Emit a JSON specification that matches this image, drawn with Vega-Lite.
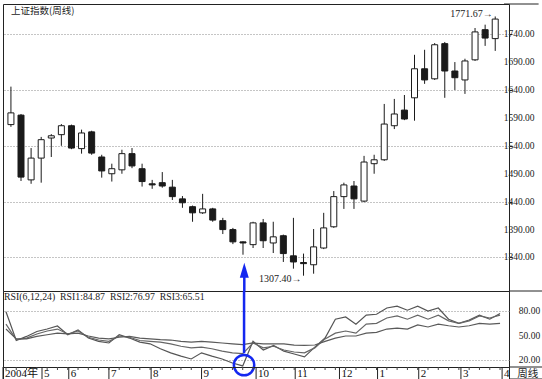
{
  "$schema": "https://vega.github.io/schema/vega-lite/v6.json",
  "padding": {"left": 2, "top": 3, "right": 3, "bottom": 1},
  "background": "white",
  "spacing": 0,
  "bounds": "flush",
  "config": {"view": {"stroke": "#222", "strokeWidth": 1}, "font": "Liberation Serif"},
  "datasets": {
    "k": [
      {"i": 0, "o": 1578, "h": 1646, "l": 1574, "c": 1599, "r6": 79, "r12": 64, "r24": 58},
      {"i": 1, "o": 1595, "h": 1597, "l": 1477, "c": 1484, "r6": 44, "r12": 45, "r24": 46},
      {"i": 2, "o": 1479, "h": 1536, "l": 1472, "c": 1518, "r6": 49, "r12": 47, "r24": 46},
      {"i": 3, "o": 1518, "h": 1556, "l": 1474, "c": 1551, "r6": 55, "r12": 52, "r24": 49},
      {"i": 4, "o": 1554, "h": 1561, "l": 1520, "c": 1558, "r6": 58, "r12": 55.6, "r24": 51},
      {"i": 5, "o": 1560, "h": 1579, "l": 1540, "c": 1576, "r6": 61.7, "r12": 58, "r24": 53},
      {"i": 6, "o": 1576, "h": 1578, "l": 1534, "c": 1536, "r6": 51, "r12": 52, "r24": 52},
      {"i": 7, "o": 1535, "h": 1569, "l": 1526, "c": 1563, "r6": 57, "r12": 55.6, "r24": 53},
      {"i": 8, "o": 1565, "h": 1567, "l": 1524, "c": 1527, "r6": 47, "r12": 48, "r24": 49.5},
      {"i": 9, "o": 1520, "h": 1524, "l": 1483, "c": 1495, "r6": 43, "r12": 44.6, "r24": 47},
      {"i": 10, "o": 1490, "h": 1508, "l": 1476, "c": 1499, "r6": 41, "r12": 43, "r24": 46},
      {"i": 11, "o": 1497, "h": 1533, "l": 1490, "c": 1526, "r6": 51, "r12": 49.5, "r24": 48},
      {"i": 12, "o": 1526, "h": 1536, "l": 1500, "c": 1504, "r6": 47, "r12": 48, "r24": 49},
      {"i": 13, "o": 1499, "h": 1508, "l": 1467, "c": 1476, "r6": 42, "r12": 44, "r24": 47},
      {"i": 14, "o": 1472, "h": 1479, "l": 1463, "c": 1470, "r6": 40, "r12": 43, "r24": 46},
      {"i": 15, "o": 1474, "h": 1493, "l": 1465, "c": 1468, "r6": 34, "r12": 42, "r24": 45},
      {"i": 16, "o": 1466, "h": 1479, "l": 1443, "c": 1449, "r6": 29, "r12": 40, "r24": 44.6},
      {"i": 17, "o": 1445, "h": 1450, "l": 1429, "c": 1438, "r6": 25, "r12": 37, "r24": 43},
      {"i": 18, "o": 1431, "h": 1433, "l": 1404, "c": 1420, "r6": 21.5, "r12": 35, "r24": 42},
      {"i": 19, "o": 1420, "h": 1454, "l": 1418, "c": 1427, "r6": 29, "r12": 36, "r24": 43},
      {"i": 20, "o": 1427, "h": 1429, "l": 1404, "c": 1407, "r6": 25, "r12": 34, "r24": 42},
      {"i": 21, "o": 1406, "h": 1411, "l": 1382, "c": 1390, "r6": 21.5, "r12": 31, "r24": 41},
      {"i": 22, "o": 1390, "h": 1393, "l": 1364, "c": 1368, "r6": 16.6, "r12": 29, "r24": 40},
      {"i": 23, "o": 1368, "h": 1369, "l": 1345, "c": 1366, "r6": 13, "r12": 28, "r24": 39},
      {"i": 24, "o": 1363, "h": 1404, "l": 1357, "c": 1402, "r6": 43, "r12": 41, "r24": 41},
      {"i": 25, "o": 1402, "h": 1409, "l": 1357, "c": 1370, "r6": 32.4, "r12": 35, "r24": 40},
      {"i": 26, "o": 1366, "h": 1404, "l": 1348, "c": 1377, "r6": 38, "r12": 37, "r24": 40},
      {"i": 27, "o": 1379, "h": 1381, "l": 1332, "c": 1347, "r6": 31, "r12": 32.4, "r24": 40},
      {"i": 28, "o": 1343, "h": 1411, "l": 1320, "c": 1332, "r6": 27.5, "r12": 30, "r24": 38.5},
      {"i": 29, "o": 1331, "h": 1347, "l": 1307.4, "c": 1329, "r6": 24, "r12": 29, "r24": 38},
      {"i": 30, "o": 1327, "h": 1391, "l": 1311, "c": 1359, "r6": 36, "r12": 35, "r24": 38.5},
      {"i": 31, "o": 1357, "h": 1420, "l": 1355, "c": 1393, "r6": 47, "r12": 46, "r24": 43},
      {"i": 32, "o": 1395, "h": 1459, "l": 1393, "c": 1449, "r6": 70, "r12": 53, "r24": 47},
      {"i": 33, "o": 1449, "h": 1474, "l": 1427, "c": 1470, "r6": 72.7, "r12": 55.6, "r24": 49.5},
      {"i": 34, "o": 1468, "h": 1477, "l": 1427, "c": 1445, "r6": 64, "r12": 53, "r24": 49.5},
      {"i": 35, "o": 1441, "h": 1522, "l": 1439, "c": 1511, "r6": 75, "r12": 64, "r24": 53},
      {"i": 36, "o": 1508, "h": 1524, "l": 1490, "c": 1515, "r6": 76, "r12": 65, "r24": 54},
      {"i": 37, "o": 1515, "h": 1615, "l": 1513, "c": 1579, "r6": 83.7, "r12": 71.5, "r24": 58},
      {"i": 38, "o": 1576, "h": 1624, "l": 1570, "c": 1597, "r6": 86, "r12": 74, "r24": 59},
      {"i": 39, "o": 1604, "h": 1631, "l": 1586, "c": 1588, "r6": 81, "r12": 70, "r24": 58},
      {"i": 40, "o": 1626, "h": 1703, "l": 1585, "c": 1678, "r6": 86, "r12": 75, "r24": 63},
      {"i": 41, "o": 1678, "h": 1712, "l": 1651, "c": 1658, "r6": 80, "r12": 70, "r24": 60.5},
      {"i": 42, "o": 1660, "h": 1724, "l": 1658, "c": 1721, "r6": 83.7, "r12": 75, "r24": 64},
      {"i": 43, "o": 1723, "h": 1726, "l": 1626, "c": 1674, "r6": 70, "r12": 68, "r24": 62},
      {"i": 44, "o": 1674, "h": 1690, "l": 1640, "c": 1662, "r6": 65, "r12": 65, "r24": 60.5},
      {"i": 45, "o": 1658, "h": 1696, "l": 1633, "c": 1692, "r6": 69, "r12": 68, "r24": 62},
      {"i": 46, "o": 1694, "h": 1751, "l": 1692, "c": 1744, "r6": 75, "r12": 74, "r24": 65},
      {"i": 47, "o": 1748, "h": 1757, "l": 1719, "c": 1733, "r6": 70, "r12": 71.5, "r24": 64},
      {"i": 48, "o": 1732, "h": 1771.67, "l": 1710, "c": 1767, "r6": 77, "r12": 75, "r24": 65}
    ],
    "months": [
      {"m": "2004年", "p": -0.29},
      {"m": "5", "p": 3.5},
      {"m": "6", "p": 6.1},
      {"m": "7", "p": 10.0},
      {"m": "8", "p": 14.1},
      {"m": "9", "p": 19.0},
      {"m": "10", "p": 24.3},
      {"m": "11", "p": 28.1},
      {"m": "12", "p": 32.4},
      {"m": "1", "p": 36.1},
      {"m": "2", "p": 40.1},
      {"m": "3", "p": 44.2},
      {"m": "4", "p": 48.2}
    ],
    "priceTicks": [{"v": 1340}, {"v": 1390}, {"v": 1440}, {"v": 1490}, {"v": 1540}, {"v": 1590}, {"v": 1640}, {"v": 1690}, {"v": 1740}],
    "rsiTicks": [{"v": 20}, {"v": 50}, {"v": 80}]
  },
  "vconcat": [
    {
      "width": 506,
      "height": 287,
      "layer": [
        {
          "data": {"name": "k"},
          "mark": {"type": "rule", "color": "#1a1a1a", "strokeWidth": 1},
          "encoding": {
            "x": {"field": "i", "type": "quantitative", "scale": {"domain": [-0.29, 48.87], "nice": false, "zero": false}, "axis": null},
            "y": {"field": "l", "type": "quantitative", "scale": {"domain": [1280, 1794], "nice": false, "zero": false},
              "axis": {"orient": "right", "values": [1340, 1390, 1440, 1490, 1540, 1590, 1640, 1690, 1740], "title": null, "labels": false,
                "grid": true, "gridColor": "#8a8a8a", "gridDash": [1, 2], "gridWidth": 1, "tickSize": 3, "tickColor": "#222", "domain": false}},
            "y2": {"field": "h"}
          }
        },
        {
          "data": {"name": "k"},
          "mark": {"type": "bar", "size": 6, "stroke": "#1a1a1a", "strokeWidth": 1},
          "encoding": {
            "x": {"field": "i", "type": "quantitative"},
            "y": {"field": "o", "type": "quantitative"},
            "y2": {"field": "c"},
            "fill": {"condition": {"test": "datum.c > datum.o", "value": "white"}, "value": "#1a1a1a"}
          }
        },
        {
          "data": {"name": "priceTicks"},
          "mark": {"type": "text", "align": "right", "baseline": "middle", "font": "Liberation Serif", "fontSize": 9.5, "color": "#222"},
          "encoding": {
            "x": {"datum": 51.9},
            "y": {"field": "v", "type": "quantitative"},
            "text": {"field": "v", "type": "quantitative", "format": ".2f"}
          }
        },
        {
          "data": {"values": [{}]},
          "mark": {"type": "rule", "color": "#222", "strokeWidth": 1},
          "encoding": {"x": {"datum": 48.87}, "x2": {"datum": 52.3}, "y": {"datum": 1794}}
        },
        {
          "data": {"values": [{}]},
          "mark": {"type": "text", "text": "上证指数(周线)", "font": "Noto Sans CJK SC", "fontSize": 9.5, "align": "left", "color": "#222"},
          "encoding": {"x": {"datum": 0}, "y": {"datum": 1781.7}}
        },
        {
          "data": {"values": [{}]},
          "mark": {"type": "text", "text": "1771.67→", "font": "Liberation Serif", "fontSize": 10, "align": "left", "color": "#222"},
          "encoding": {"x": {"datum": 43.54}, "y": {"datum": 1776}}
        },
        {
          "data": {"values": [{}]},
          "mark": {"type": "text", "text": "1307.40→", "font": "Liberation Serif", "fontSize": 10, "align": "left", "color": "#222"},
          "encoding": {"x": {"datum": 24.59}, "y": {"datum": 1301.7}}
        },
        {
          "data": {"values": [{}]},
          "mark": {"type": "rule", "color": "#1428f0", "strokeWidth": 2.5},
          "encoding": {"x": {"datum": 23.13}, "y": {"datum": 1317}, "y2": {"datum": 1280}}
        },
        {
          "data": {"values": [{}]},
          "mark": {"type": "point", "shape": "M0,-1L0.6,1L-0.6,1Z", "filled": true, "color": "#1428f0", "size": 225, "opacity": 1},
          "encoding": {"x": {"datum": 23.13}, "y": {"datum": 1317}}
        }
      ]
    },
    {
      "width": 506,
      "height": 76,
      "layer": [
        {
          "data": {"name": "k"},
          "transform": [{"fold": ["r6", "r12", "r24"], "as": ["key", "v"]}],
          "mark": {"type": "line", "strokeWidth": 1.2},
          "encoding": {
            "x": {"field": "i", "type": "quantitative", "scale": {"domain": [-0.29, 48.87], "nice": false, "zero": false}, "axis": null},
            "y": {"field": "v", "type": "quantitative", "scale": {"domain": [11.7, 104.4], "nice": false, "zero": false},
              "axis": {"orient": "right", "values": [20, 50, 80], "title": null, "labels": false,
                "grid": true, "gridColor": "#8a8a8a", "gridDash": [1, 2], "gridWidth": 1, "ticks": false, "domain": false}},
            "color": {"field": "key", "type": "nominal", "scale": {"domain": ["r6", "r12", "r24"], "range": ["#555555", "#666666", "#5a5a5a"]}, "legend": null}
          }
        },
        {
          "data": {"name": "rsiTicks"},
          "mark": {"type": "text", "align": "right", "baseline": "middle", "font": "Liberation Serif", "fontSize": 9.5, "color": "#222"},
          "encoding": {
            "x": {"datum": 51.9},
            "y": {"field": "v", "type": "quantitative"},
            "text": {"field": "v", "type": "quantitative", "format": ".2f"}
          }
        },
        {
          "data": {"values": [{}]},
          "mark": {"type": "rule", "color": "#222", "strokeWidth": 1},
          "encoding": {"x": {"datum": 48.87}, "x2": {"datum": 52.3}, "y": {"datum": 104.4}}
        },
        {
          "data": {"values": [{}]},
          "mark": {"type": "rule", "color": "#222", "strokeWidth": 1},
          "encoding": {"x": {"datum": 48.87}, "x2": {"datum": 52.3}, "y": {"datum": 11.7}}
        },
        {
          "data": {"values": [{}]},
          "mark": {"type": "text", "text": "RSI(6,12,24)\u00a0\u00a0RSI1:84.87\u00a0\u00a0RSI2:76.97\u00a0\u00a0RSI3:65.51", "font": "Liberation Serif", "fontSize": 9.8, "align": "left", "color": "#222"},
          "encoding": {"x": {"datum": -0.19}, "y": {"datum": 97}}
        },
        {
          "data": {"values": [{}]},
          "mark": {"type": "rule", "color": "#1428f0", "strokeWidth": 2.5},
          "encoding": {"x": {"datum": 23.13}, "y": {"datum": 104.4}, "y2": {"datum": 28.5}}
        },
        {
          "data": {"values": [{}]},
          "mark": {"type": "point", "shape": "circle", "filled": false, "color": "#1428f0", "strokeWidth": 2.5, "size": 415, "opacity": 1},
          "encoding": {"x": {"datum": 23.13}, "y": {"datum": 14}}
        }
      ]
    },
    {
      "width": 506,
      "height": 12,
      "layer": [
        {
          "data": {"name": "months"},
          "mark": {"type": "rule", "color": "#222", "strokeWidth": 1},
          "encoding": {
            "x": {"field": "p", "type": "quantitative", "scale": {"domain": [-0.29, 48.87], "nice": false, "zero": false}, "axis": null},
            "y": {"datum": 0, "type": "quantitative", "scale": {"domain": [0, 1], "nice": false, "zero": false}, "axis": null},
            "y2": {"datum": 1}
          }
        },
        {
          "data": {"name": "k"},
          "mark": {"type": "rule", "color": "#444", "strokeWidth": 1},
          "encoding": {
            "x": {"field": "i", "type": "quantitative"},
            "y": {"datum": 1, "type": "quantitative"},
            "y2": {"datum": 0.75}
          }
        },
        {
          "data": {"values": [{}]},
          "mark": {"type": "rule", "color": "#222", "strokeWidth": 1},
          "encoding": {"x": {"datum": 48.87}, "x2": {"datum": 52.3}, "y": {"datum": 0}}
        },
        {
          "data": {"name": "months"},
          "mark": {"type": "text", "align": "left", "dx": 2, "fontSize": 11, "font": "Liberation Serif, Noto Sans CJK SC", "color": "#111"},
          "encoding": {
            "x": {"field": "p", "type": "quantitative"},
            "y": {"datum": 0.45, "type": "quantitative"},
            "text": {"field": "m"}
          }
        },
        {
          "data": {"values": [{}]},
          "mark": {"type": "text", "text": "周线", "fontSize": 10.5, "font": "Noto Sans CJK SC", "align": "center", "color": "#222"},
          "encoding": {"x": {"datum": 50.7}, "y": {"datum": 0.4}}
        }
      ]
    }
  ],
  "resolve": {"scale": {"x": "independent", "y": "independent"}}
}
